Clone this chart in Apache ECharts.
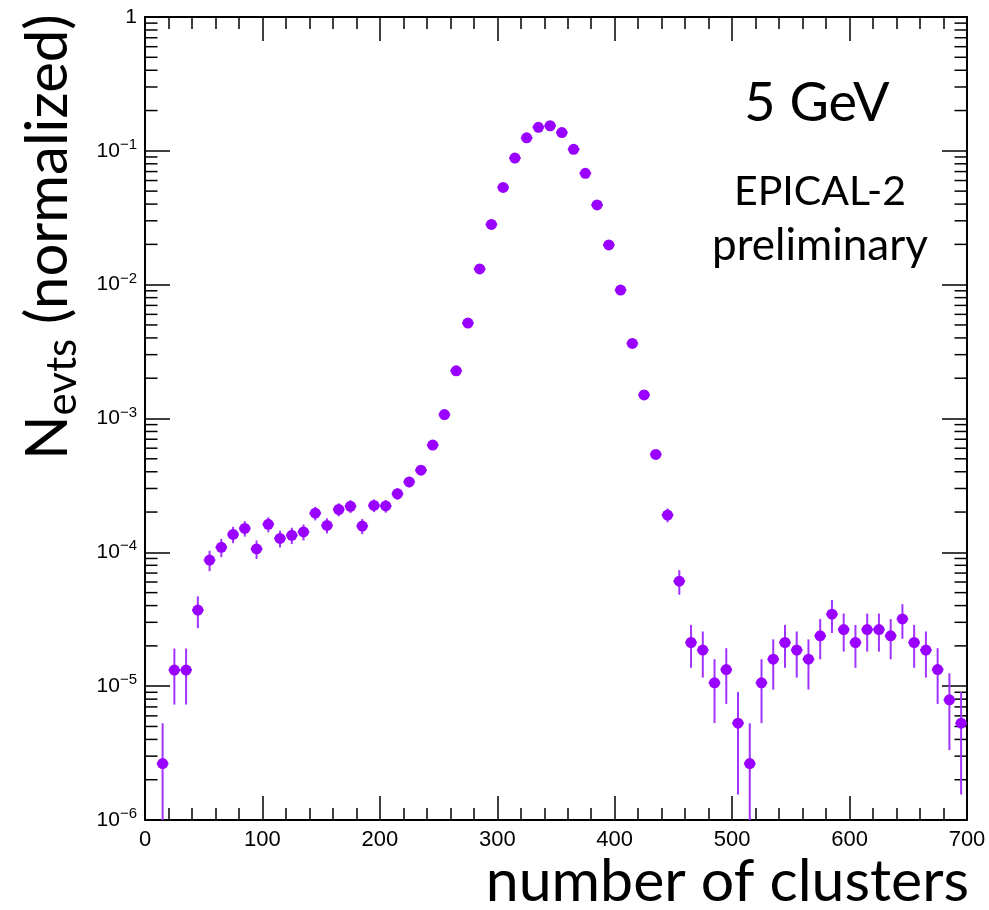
<!DOCTYPE html>
<html>
<head>
<meta charset="utf-8">
<script src="https://cdn.jsdelivr.net/npm/echarts@6/dist/echarts.min.js"></script>
<style>
  html, body { margin: 0; padding: 0; background: #ffffff; }
  #chart { width: 989px; height: 910px; }
</style>
</head>
<body>
<div id="chart"></div>
<script>
// Bin centres (number of clusters), bin width 10
const binCenters = [
  15, 25, 35, 45, 55, 65, 75, 85, 95,
  105, 115, 125, 135, 145, 155, 165, 175, 185, 195,
  205, 215, 225, 235, 245, 255, 265, 275, 285, 295,
  305, 315, 325, 335, 345, 355, 365, 375, 385, 395,
  405, 415, 425, 435, 445, 455, 465, 475, 485, 495,
  505, 515, 525, 535, 545, 555, 565, 575, 585, 595,
  605, 615, 625, 635, 645, 655, 665, 675, 685, 695
];

// Normalized event fraction per bin
const nEvtsNorm = [
  2.64e-6, 1.32e-5, 1.32e-5, 3.70e-5, 8.75e-5, 1.09e-4, 1.36e-4, 1.51e-4, 1.06e-4,
  1.62e-4, 1.27e-4, 1.34e-4, 1.42e-4, 1.96e-4, 1.59e-4, 2.09e-4, 2.21e-4, 1.57e-4, 2.24e-4,
  2.22e-4, 2.74e-4, 3.36e-4, 4.11e-4, 6.33e-4, 1.07e-3, 2.27e-3, 5.16e-3, 1.31e-2, 2.82e-2,
  5.33e-2, 8.83e-2, 0.125, 0.150, 0.154, 0.137, 0.1026, 0.0679, 0.0394, 0.0198,
  9.12e-3, 3.64e-3, 1.50e-3, 5.39e-4, 1.90e-4, 6.09e-5, 2.12e-5, 1.86e-5, 1.06e-5, 1.33e-5,
  5.29e-6, 2.64e-6, 1.06e-5, 1.59e-5, 2.12e-5, 1.86e-5, 1.59e-5, 2.38e-5, 3.45e-5, 2.65e-5,
  2.12e-5, 2.65e-5, 2.65e-5, 2.38e-5, 3.18e-5, 2.12e-5, 1.86e-5, 1.33e-5, 7.9e-6, 5.29e-6
];

// Statistical uncertainty per bin
const nEvtsErr = [
  2.64e-6, 5.91e-6, 5.91e-6, 9.89e-6, 1.52e-5, 1.70e-5, 1.90e-5, 2.00e-5, 1.67e-5,
  2.07e-5, 1.83e-5, 1.88e-5, 1.94e-5, 2.28e-5, 2.05e-5, 2.35e-5, 2.42e-5, 2.04e-5, 2.43e-5,
  2.42e-5, 2.69e-5, 2.98e-5, 3.30e-5, 4.09e-5, 5.32e-5, 7.75e-5, 1.17e-4, 1.86e-4, 2.73e-4,
  3.75e-4, 4.83e-4, 5.75e-4, 6.30e-4, 6.38e-4, 6.02e-4, 5.21e-4, 4.24e-4, 3.23e-4, 2.29e-4,
  1.55e-4, 9.81e-5, 6.30e-5, 3.78e-5, 2.24e-5, 1.27e-5, 7.49e-6, 7.01e-6, 5.30e-6, 5.93e-6,
  3.74e-6, 2.64e-6, 5.30e-6, 6.48e-6, 7.49e-6, 7.01e-6, 6.48e-6, 7.93e-6, 9.55e-6, 8.37e-6,
  7.49e-6, 8.37e-6, 8.37e-6, 7.93e-6, 9.17e-6, 7.49e-6, 7.01e-6, 5.93e-6, 4.57e-6, 3.74e-6
];

const X_MIN = 0, X_MAX = 700, X_STEP = 100;
const Y_MIN = 1e-6, Y_MAX = 1;
const HALF_BIN = 5;

// Minor log ticks: 2..9 within each decade
const yDecades = [1e-6, 1e-5, 1e-4, 1e-3, 1e-2, 1e-1];
const yMinorMult = [2, 3, 4, 5, 6, 7, 8, 9];
const yMinorTicks = [];
yDecades.forEach(d => yMinorMult.forEach(m => yMinorTicks.push([X_MIN, d * m])));

const COLOR = '#9900ff';
const BAR_COLOR = '#a033ff';
const TICK_FONT = '"Liberation Sans", Arial, Helvetica, sans-serif';
const TEXT_FONT = 'Lato, "Open Sans", sans-serif';

const chart = echarts.init(document.getElementById('chart'), null, { renderer: 'canvas' });

const axisLineStyle = { color: '#000', width: 2 };

function logLabel(v) {
  const e = Math.round(Math.log10(v));
  if (e === 0) return '{b|1}';
  return '{b|10}{s|\u2212' + (-e) + '}';
}
const logRich = {
  b: { fontFamily: TICK_FONT, fontSize: 21, color: '#000', lineHeight: 27 },
  s: { fontFamily: TICK_FONT, fontSize: 15, color: '#000', verticalAlign: 'top', lineHeight: 27 }
};

const option = {
  backgroundColor: '#ffffff',
  animation: false,
  grid: { left: 145, right: 22, top: 17, bottom: 90, containLabel: false },
  xAxis: [
    {
      type: 'value', min: X_MIN, max: X_MAX, interval: X_STEP, position: 'bottom',
      axisLine: { show: true, onZero: false, lineStyle: axisLineStyle },
      axisTick: { show: true, inside: true, length: 24, lineStyle: { color: '#000', width: 1.5 } },
      minorTick: { show: true, splitNumber: 5, length: 12, lineStyle: { color: '#000', width: 1.5 } },
      axisLabel: { fontFamily: TICK_FONT, fontSize: 22, color: '#000', margin: 9 },
      splitLine: { show: false }
    },
    {
      type: 'value', min: X_MIN, max: X_MAX, interval: X_STEP, position: 'top',
      axisLine: { show: true, onZero: false, lineStyle: axisLineStyle },
      axisTick: { show: true, inside: true, length: 24, lineStyle: { color: '#000', width: 1.5 } },
      minorTick: { show: true, splitNumber: 5, length: 12, lineStyle: { color: '#000', width: 1.5 } },
      axisLabel: { show: false },
      splitLine: { show: false }
    }
  ],
  yAxis: [
    {
      type: 'log', logBase: 10, min: Y_MIN, max: Y_MAX, splitNumber: 6, position: 'left',
      axisLine: { show: true, onZero: false, lineStyle: axisLineStyle },
      axisTick: { show: true, inside: true, length: 25, lineStyle: { color: '#000', width: 1.5 } },
      axisLabel: { formatter: logLabel, rich: logRich, margin: 8 },
      splitLine: { show: false }
    },
    {
      type: 'log', logBase: 10, min: Y_MIN, max: Y_MAX, splitNumber: 6, position: 'right',
      axisLine: { show: true, onZero: false, lineStyle: axisLineStyle },
      axisTick: { show: true, inside: true, length: 25, lineStyle: { color: '#000', width: 1.5 } },
      axisLabel: { show: false },
      splitLine: { show: false }
    }
  ],
  series: [
    {
      // minor decade ticks on left and right frame edges
      type: 'custom',
      silent: true,
      clip: false,
      xAxisIndex: 0, yAxisIndex: 0,
      data: yMinorTicks,
      renderItem(params, api) {
        const v = api.value(1);
        const pl = api.coord([X_MIN, v]);
        const pr = api.coord([X_MAX, v]);
        const st = { stroke: '#000', lineWidth: 1.5 };
        return {
          type: 'group',
          children: [
            { type: 'line', shape: { x1: pl[0], y1: pl[1], x2: pl[0] + 12.5, y2: pl[1] }, style: st },
            { type: 'line', shape: { x1: pr[0] - 12.5, y1: pr[1], x2: pr[0], y2: pr[1] }, style: st }
          ]
        };
      },
      z: 1
    },
    {
      // error bars
      type: 'custom',
      silent: true,
      clip: true,
      xAxisIndex: 0, yAxisIndex: 0,
      data: binCenters.map((x, i) => [x, nEvtsNorm[i], nEvtsErr[i]]),
      renderItem(params, api) {
        const x = api.value(0), y = api.value(1), e = api.value(2);
        const lo = Math.max(y - e, Y_MIN);
        const hi = y + e;
        const pLo = api.coord([x, lo]);
        const pHi = api.coord([x, hi]);
        const pL = api.coord([x - HALF_BIN, y]);
        const pR = api.coord([x + HALF_BIN, y]);
        const st = { stroke: BAR_COLOR, lineWidth: 2 };
        return {
          type: 'group',
          children: [
            { type: 'line', shape: { x1: pLo[0], y1: pLo[1], x2: pHi[0], y2: pHi[1] }, style: st },
            { type: 'line', shape: { x1: pL[0], y1: pL[1], x2: pR[0], y2: pR[1] }, style: st }
          ]
        };
      },
      z: 2
    },
    {
      type: 'scatter',
      xAxisIndex: 0, yAxisIndex: 0,
      symbol: 'circle',
      symbolSize: 11,
      itemStyle: { color: COLOR, opacity: 1 },
      data: binCenters.map((x, i) => [x, nEvtsNorm[i]]),
      z: 3
    }
  ],
  graphic: [
    {
      type: 'text', x: 817, y: 104,
      style: { text: '5 GeV', font: '54px ' + TEXT_FONT, fill: '#000', align: 'center', verticalAlign: 'middle' }
    },
    {
      type: 'text', x: 820, y: 192,
      style: { text: 'EPICAL-2', font: '41px ' + TEXT_FONT, fill: '#000', align: 'center', verticalAlign: 'middle' }
    },
    {
      type: 'text', x: 820, y: 246,
      style: { text: 'preliminary', font: '44px ' + TEXT_FONT, fill: '#000', align: 'center', verticalAlign: 'middle' }
    },
    {
      type: 'text', x: 969, y: 882,
      style: { text: 'number of clusters', font: '59px ' + TEXT_FONT, fill: '#000', align: 'right', verticalAlign: 'middle' }
    },
    {
      type: 'text', x: 48, y: 237, rotation: Math.PI / 2,
      style: {
        text: '{n|N}{s|evts}{n| (normalized)}',
        align: 'center', verticalAlign: 'middle',
        rich: {
          n: { font: '58px ' + TEXT_FONT, fill: '#000', lineHeight: 70 },
          s: { font: '42px ' + TEXT_FONT, fill: '#000', lineHeight: 70, verticalAlign: 'bottom' }
        }
      }
    }
  ]
};

chart.setOption(option);
</script>
</body>
</html>
